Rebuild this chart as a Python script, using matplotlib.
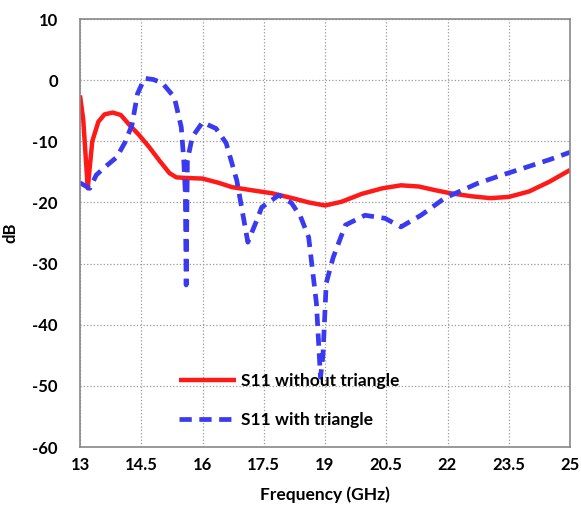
import numpy as np
import matplotlib.pyplot as plt

plt.rcParams['font.family'] = ['Lato', 'DejaVu Sans']
plt.rcParams['axes.unicode_minus'] = False

# S11 without triangle (red)
freq_a = [13.0, 13.08, 13.19, 13.3, 13.45, 13.6, 13.8, 14.0, 14.22, 14.45, 14.7, 14.95,
          15.19, 15.36, 15.6, 16.0, 16.4, 16.72, 17.2, 17.7, 18.2, 18.6, 19.0,
          19.4, 19.9, 20.4, 20.86, 21.3, 21.7, 22.07, 22.6, 23.05, 23.5, 24.0,
          24.5, 25.0]
s11_a = [-2.5, -6.5, -17.7, -10.0, -6.8, -5.6, -5.3, -5.7, -7.4, -9.0, -11.0, -13.2,
         -15.2, -15.9, -16.0, -16.1, -16.8, -17.5, -18.0, -18.5, -19.3, -20.0, -20.5,
         -19.9, -18.6, -17.7, -17.2, -17.4, -18.0, -18.5, -19.0, -19.3, -19.1, -18.2,
         -16.6, -14.7]

# S11 with triangle (blue dashed)
freq_b = [13.0, 13.24, 13.4, 13.65, 13.9, 14.1, 14.27, 14.41, 14.58, 14.8, 15.02,
          15.31, 15.48, 15.54, 15.58, 15.6, 15.63, 15.75, 16.0, 16.33, 16.58, 16.84,
          17.11, 17.3, 17.45, 17.87, 18.18, 18.4, 18.6, 18.79, 18.89, 18.95, 19.03,
          19.2, 19.5, 19.98, 20.47, 20.86, 21.35, 21.93, 22.73, 23.3, 23.95, 24.5, 25.0]
s11_b = [-16.8, -17.7, -15.5, -14.0, -12.6, -10.2, -7.4, -2.2, 0.3, 0.1, -0.5,
         -2.8, -7.7, -13.0, -18.5, -33.5, -13.1, -9.3, -6.9, -7.9, -10.3, -16.4,
         -26.5, -23.4, -20.8, -18.8, -20.1, -22.3, -25.7, -36.5, -48.6, -45.0, -33.2,
         -29.0, -23.7, -22.1, -22.6, -24.0, -22.1, -19.3, -16.9, -15.6, -14.2, -13.0, -11.8]

xticks = [13, 14.5, 16, 17.5, 19, 20.5, 22, 23.5, 25]
xtick_labels = ['13', '14.5', '16', '17.5', '19', '20.5', '22', '23.5', '25']
yticks = [-60, -50, -40, -30, -20, -10, 0, 10]

fig = plt.figure(figsize=(5.81, 5.11), dpi=100)
ax = fig.add_axes([80 / 581, 64 / 511, 490 / 581, 428 / 511])

ax.plot(freq_a, s11_a, color='#ff1a1a', lw=3.2, label='S11 without triangle',
        solid_capstyle='butt')
ax.plot(freq_b, s11_b, color='#3a3af0', lw=3.4, ls=(0, (2.6, 1.6)),
        label='S11 with triangle')

ax.set_xlim(13, 25)
ax.set_ylim(-60, 10)
ax.set_xticks(xticks)
ax.set_xticklabels(xtick_labels)
ax.set_yticks(yticks)
ax.grid(True, ls=':', color='#999999', lw=0.9)
ax.tick_params(axis='x', length=0, labelsize=12, pad=7)
ax.tick_params(axis='y', length=0, labelsize=12, pad=16)
for lab in ax.get_xticklabels() + ax.get_yticklabels():
    lab.set_fontweight('bold')
for s in ax.spines.values():
    s.set_color('#888888')
    s.set_linewidth(1.2)

ax.set_xlabel('Frequency (GHz)', fontsize=12.5, fontweight='bold', labelpad=10)
ax.set_ylabel('dB', fontsize=12, fontweight='bold', labelpad=10)

ax.legend(loc='upper left', bbox_to_anchor=(0.17, 0.21), frameon=False,
          labelspacing=1.35, handlelength=3.3, handletextpad=0.3,
          prop={'size': 12.5, 'weight': 'bold'})

fig.savefig('out.png', dpi=100)
